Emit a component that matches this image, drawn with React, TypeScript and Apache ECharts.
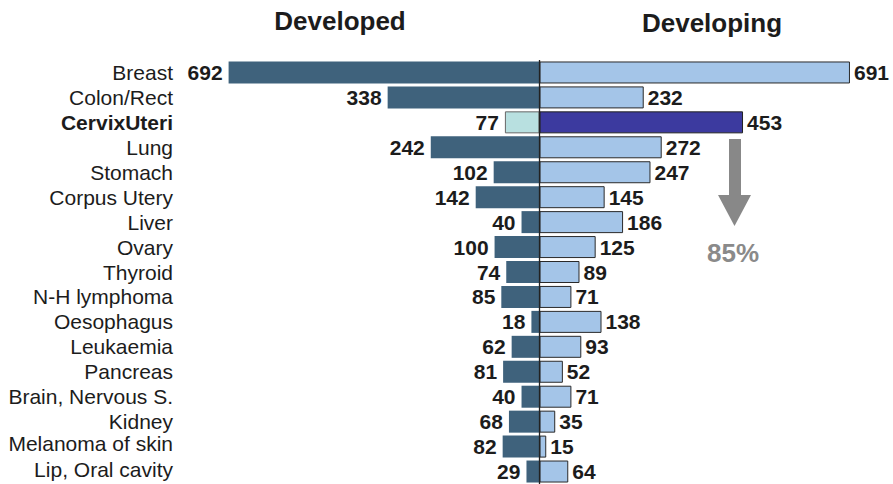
import React, { useEffect, useRef } from "react";
import * as echarts from "echarts";

// Cancer sites, ordered top to bottom
const categories = [
  "Breast",
  "Colon/Rect",
  "CervixUteri",
  "Lung",
  "Stomach",
  "Corpus Utery",
  "Liver",
  "Ovary",
  "Thyroid",
  "N-H lymphoma",
  "Oesophagus",
  "Leukaemia",
  "Pancreas",
  "Brain, Nervous S.",
  "Kidney",
  "Melanoma of skin",
  "Lip, Oral cavity",
];

// New cases (thousands)
const developed = [692, 338, 77, 242, 102, 142, 40, 100, 74, 85, 18, 62, 81, 40, 68, 82, 29];
const developing = [691, 232, 453, 272, 247, 145, 186, 125, 89, 71, 138, 93, 52, 71, 35, 15, 64];

const titles = ["Developed", "Developing"];
const highlightSite = "CervixUteri";
const shiftLabel = "85%";

const FONT = "'Liberation Sans', Arial, Helvetica, sans-serif";
const INK = "#1c1c1c";

export default function App() {
  const ref = useRef<HTMLDivElement>(null);

  useEffect(() => {
    if (!ref.current) return;
    const chart = echarts.init(ref.current, null, { renderer: "svg" });

    const leftData = developed.map((v, i) =>
      categories[i] === highlightSite
        ? { value: -v, itemStyle: { color: "#b8e0e0", borderColor: "#666", borderWidth: 1 } }
        : -v
    );
    const rightData = developing.map((v, i) =>
      categories[i] === highlightSite
        ? { value: v, itemStyle: { color: "#3c3a9f", borderColor: "#222", borderWidth: 1 } }
        : v
    );

    const valueLabel = {
      show: true,
      fontFamily: FONT,
      fontSize: 21,
      fontWeight: "bold" as const,
      color: INK,
      formatter: (p: any) => String(Math.abs(p.value)),
    };

    const catText = { fontFamily: FONT, fontSize: 21, color: INK };

    chart.setOption({
      animation: false,
      textStyle: { fontFamily: FONT },
      grid: { left: 225, width: 629, top: 60, height: 425 },
      xAxis: { type: "value", min: -700, max: 700, show: false },
      yAxis: {
        type: "category",
        data: categories,
        inverse: true,
        axisLine: { show: false },
        axisTick: { show: false },
        splitLine: { show: false },
        axisLabel: {
          interval: 0,
          hideOverlap: false,
          margin: 52,
          ...catText,
          formatter: (v: string) => {
            if (v === highlightSite) return `{b|${v}}`;
            if (v === "Melanoma of skin") return `{up3|${v}}`;
            if (v === "Lip, Oral cavity") return `{up2|${v}}`;
            return v;
          },
          rich: {
            b: { ...catText, fontWeight: "bold" },
            up3: { ...catText, padding: [0, 0, 6, 0] },
            up2: { ...catText, padding: [0, 0, 4, 0] },
          },
        },
      },
      series: [
        {
          name: titles[0],
          type: "bar",
          data: leftData,
          barWidth: 22,
          barGap: "-100%",
          itemStyle: { color: "#3f627c" },
          label: { ...valueLabel, position: "left", distance: 6 },
        },
        {
          name: titles[1],
          type: "bar",
          data: rightData,
          barWidth: 22,
          itemStyle: { color: "#a4c5e8", borderColor: "#2a2a2a", borderWidth: 1 },
          label: { ...valueLabel, position: "right", distance: 4 },
          markLine: {
            silent: true,
            symbol: "none",
            label: { show: false },
            lineStyle: { color: "#222", width: 1.3, type: "solid" },
            data: [{ xAxis: 0 }],
          },
        },
      ],
      graphic: [
        {
          type: "text",
          x: 340,
          y: 21,
          style: {
            text: titles[0],
            fontFamily: FONT,
            fontSize: 26,
            fontWeight: "bold",
            fill: INK,
            align: "center",
            verticalAlign: "middle",
          },
        },
        {
          type: "text",
          x: 712,
          y: 23,
          style: {
            text: titles[1],
            fontFamily: FONT,
            fontSize: 26,
            fontWeight: "bold",
            fill: INK,
            align: "center",
            verticalAlign: "middle",
          },
        },
        // downward arrow next to the developing bars
        { type: "rect", shape: { x: 729, y: 139, width: 12, height: 57 }, style: { fill: "#888" } },
        {
          type: "polygon",
          shape: { points: [[718, 195], [751, 195], [734.5, 226]] },
          style: { fill: "#888" },
        },
        {
          type: "text",
          x: 733,
          y: 253,
          style: {
            text: shiftLabel,
            fontFamily: FONT,
            fontSize: 26,
            fontWeight: "bold",
            fill: "#8a8a8a",
            align: "center",
            verticalAlign: "middle",
          },
        },
      ],
    });

    return () => chart.dispose();
  }, []);

  return (
    <div
      ref={ref}
      style={{ position: "absolute", left: 0, top: 0, width: 893, height: 484, background: "#fff" }}
    />
  );
}
